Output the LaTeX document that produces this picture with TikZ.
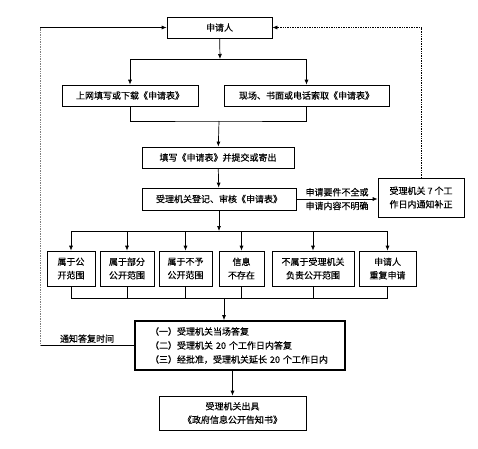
\documentclass[tikz,border=0pt]{standalone}
\usepackage{fontspec}
\newfontfamily\cjk[FakeBold=0.3]{Noto Sans CJK SC}
\usetikzlibrary{arrows.meta, positioning}

\begin{document}
\begin{tikzpicture}[x=1pt, y=-1pt,
    every node/.style={font=\cjk\fontsize{9}{13.5}\selectfont},
    stagebox/.style={rectangle, draw, line width=0.7pt, align=center, inner sep=2pt},
    replybox/.style={rectangle, draw, line width=1.8pt, align=left, text width=190pt, inner xsep=10pt, minimum height=49pt},
    flow/.style={line width=0.7pt, -{Latex[length=5pt, width=4pt]}},
    link/.style={line width=0.7pt},
]
\useasboundingbox (0,0) rectangle (478,448);
% top
\node[stagebox, minimum width=105pt, minimum height=21pt] (applicant) at (219.5,27.5) {申请人};
\node[stagebox, minimum width=136pt, minimum height=21pt] (online) at (130,95.5) {上网填写或下载《申请表》};
\node[stagebox, minimum width=165pt, minimum height=21pt] (onsite) at (306.5,95.5) {现场、书面或电话索取《申请表》};
\node[stagebox, minimum width=152pt, minimum height=21pt] (submit) at (218,157.5) {填写《申请表》并提交或寄出};
\node[stagebox, minimum width=154pt, minimum height=22pt] (register) at (219,199) {受理机关登记、审核《申请表》};
\node[stagebox, minimum width=86pt, minimum height=39pt] (amend) at (421,197.5) {受理机关 7 个工\\作日内通知补正};
% six cases
\node[stagebox, minimum width=48pt, minimum height=35pt] (c1) at (71,268.5) {属于公\\开范围};
\node[stagebox, minimum width=54pt, minimum height=35pt] (c2) at (127,268.5) {属于部分\\公开范围};
\node[stagebox, minimum width=53pt, minimum height=35pt] (c3) at (185.5,268.5) {属于不予\\公开范围};
\node[stagebox, minimum width=45pt, minimum height=35pt] (c4) at (241.5,268.5) {信息\\不存在};
\node[stagebox, minimum width=82pt, minimum height=35pt] (c5) at (313,268.5) {不属于受理机关\\负责公开范围};
\node[stagebox, minimum width=57pt, minimum height=35pt] (c6) at (387.5,268.5) {申请人\\重复申请};
% reply
\node[replybox, font=\cjk\fontsize{9}{14}\selectfont] (reply) at (240,345.5) {\hspace*{5pt}（一）受理机关当场答复\\\hspace*{5pt}（二）受理机关 20 个工作日内答复\\\hspace*{5pt}（三）经批准，受理机关延长 20 个工作日内};
\node[stagebox, minimum width=147pt, minimum height=34pt] (issue) at (232.5,413) {受理机关出具\\《政府信息公开告知书》};

\coordinate (split1) at (220,59);
\coordinate (join1) at (219,121);
\coordinate (split2) at (219,231);
\coordinate (join2) at (224,298);
\coordinate (loopB) at (40,345.5);
\coordinate (loopT) at (40,27.5);

\draw[flow] (applicant) -- (split1);
\draw[link] (online.north |- split1) -- (onsite.north |- split1);
\draw[flow] (online.north |- split1) -- (online);
\draw[flow] (onsite.north |- split1) -- (onsite);
\draw[link] (online.south) |- (join1) -| (onsite.south);
\draw[flow] (join1) -- (submit);
\draw[flow] (submit) -- (register);
\draw[flow] (register.east) -- node[above=-1pt]{申请要件不全或} node[below=-1pt]{申请内容不明确} (register.east -| amend.west);
\draw[link, densely dotted, -{Latex[length=5pt, width=4pt]}] (amend.north) |- (applicant.east);
\draw[flow] (register) -- (split2);
\draw[link] (c1.north |- split2) -- (c6.north |- split2);
\foreach \c in {c1,c2,c3,c4,c5,c6} {
    \draw[flow] (\c.north |- split2) -- (\c);
    \draw[link] (\c.south) -- (\c.south |- join2);
}
\draw[link] (c1.south |- join2) -- (c6.south |- join2);
\draw[flow] (join2) -- (join2 |- reply.north);
\draw[flow] (reply.south -| issue) -- (issue);
% loop back to applicant
\draw[link] (reply.west) -- node[above=-1pt]{通知答复时间} (loopB);
\draw[link, densely dotted, gray] (loopB) -- (loopT);
\draw[flow] (loopT) -- (applicant.west);
\end{tikzpicture}
\end{document}
